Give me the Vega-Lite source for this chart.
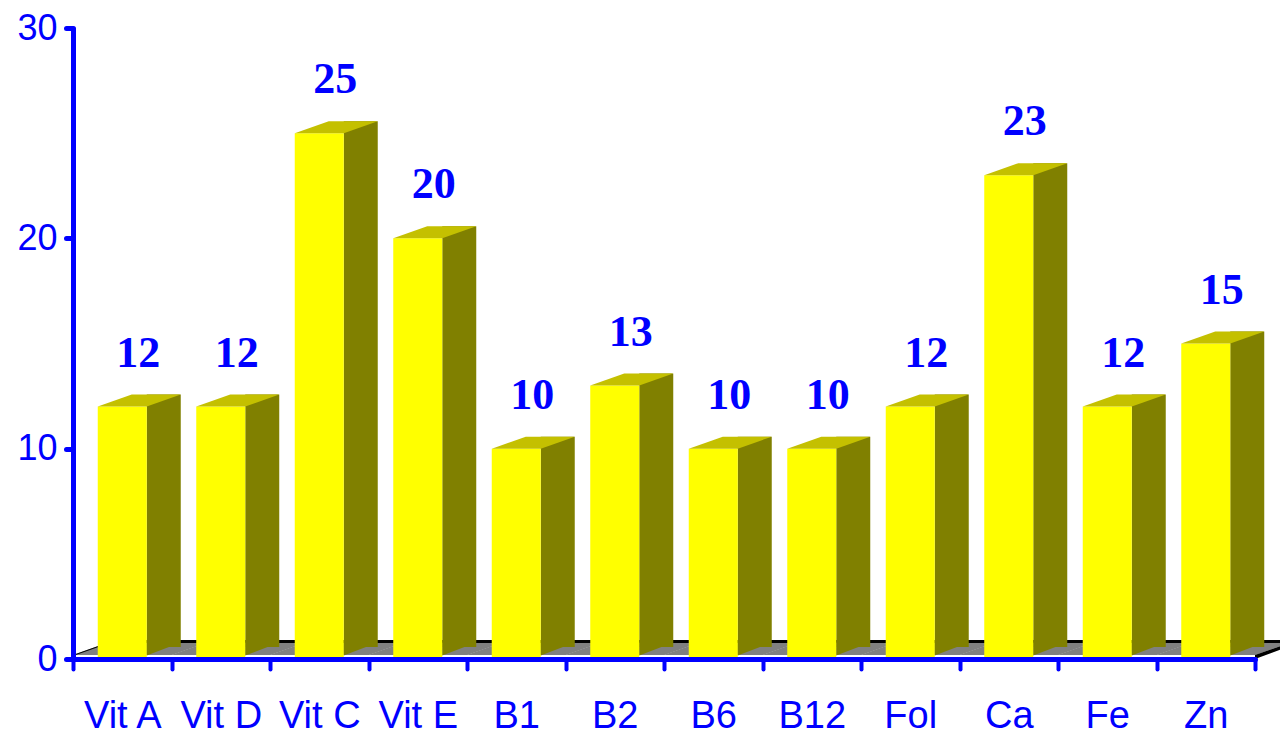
{
  "$schema": "https://vega.github.io/schema/vega-lite/v6.json",
  "width": 1182,
  "height": 631,
  "autosize": {"type": "none"},
  "padding": {"left": 73, "top": 28, "right": 25, "bottom": 76},
  "background": "white",
  "config": {"view": {"stroke": null}},
  "data": {
    "values": [
      {"nutrient": "Vit A", "value": 12},
      {"nutrient": "Vit D", "value": 12},
      {"nutrient": "Vit C", "value": 25},
      {"nutrient": "Vit E", "value": 20},
      {"nutrient": "B1", "value": 10},
      {"nutrient": "B2", "value": 13},
      {"nutrient": "B6", "value": 10},
      {"nutrient": "B12", "value": 10},
      {"nutrient": "Fol", "value": 12},
      {"nutrient": "Ca", "value": 23},
      {"nutrient": "Fe", "value": 12},
      {"nutrient": "Zn", "value": 15}
    ]
  },
  "encoding": {
    "x": {
      "field": "nutrient",
      "type": "nominal",
      "sort": null,
      "scale": {"paddingInner": 0, "paddingOuter": 0},
      "axis": {
        "title": null,
        "zindex": 1,
        "labelAngle": 0,
        "domainColor": "#0000FF",
        "domainWidth": 5,
        "domainCap": "round",
        "tickColor": "#0000FF",
        "tickWidth": 4,
        "tickSize": 10,
        "tickCap": "round",
        "tickBand": "extent",
        "labelColor": "#0000FF",
        "labelFont": "Liberation Sans",
        "labelFontSize": 38,
        "labelBaseline": "alphabetic",
        "labelPadding": 58,
        "grid": false
      }
    },
    "y": {
      "field": "value",
      "type": "quantitative",
      "scale": {"domain": [0, 30], "nice": false},
      "axis": {
        "title": null,
        "zindex": 1,
        "values": [0, 10, 20, 30],
        "domainColor": "#0000FF",
        "domainWidth": 5,
        "tickColor": "#0000FF",
        "tickWidth": 5,
        "tickSize": 7,
        "tickCap": "round",
        "labelColor": "#0000FF",
        "labelFont": "Liberation Sans",
        "labelFontSize": 36,
        "labelPadding": 9,
        "grid": false
      }
    }
  },
  "layer": [
    {
      "mark": {"type": "point", "shape": "M-49.6,-4L49.6,-4L83.6,-16L-15.6,-16Z", "size": 4, "filled": true, "opacity": 1, "color": "#808080", "strokeWidth": 0},
      "encoding": {"y": {"datum": 0}}
    },
    {
      "mark": {"type": "point", "shape": "M-15.6,-19L83.6,-19L83.6,-16L-15.6,-16Z", "size": 4, "filled": true, "opacity": 1, "color": "#000000", "strokeWidth": 0},
      "encoding": {"y": {"datum": 0}}
    },
    {
      "transform": [{"filter": "datum.nutrient === 'Vit A'"}],
      "mark": {"type": "point", "shape": "M-49.25,-4L-46.5,-4L-12.5,-16L-15.6,-16Z", "size": 4, "filled": true, "opacity": 1, "color": "#000000", "strokeWidth": 0},
      "encoding": {"y": {"datum": 0}}
    },
    {
      "transform": [{"filter": "datum.nutrient === 'Zn'"}],
      "mark": {"type": "point", "shape": "M49.25,-4L49.25,0L87.6,-14L83.6,-16Z", "size": 4, "filled": true, "opacity": 1, "color": "#000000", "strokeWidth": 0},
      "encoding": {"y": {"datum": 0}}
    },
    {
      "mark": {"type": "bar", "width": 34, "xOffset": 41.5, "yOffset": -12, "y2Offset": -16, "color": "#808000"}
    },
    {
      "mark": {"type": "point", "shape": "M24.5,-3.5L24.5,-16.5L58.5,-16.5Z", "size": 4, "filled": true, "opacity": 1, "color": "#808000", "strokeWidth": 0},
      "encoding": {"y": {"datum": 0}}
    },
    {
      "mark": {"type": "bar", "width": 49, "color": "#FFFF00"}
    },
    {
      "mark": {"type": "point", "shape": "M-24.5,0L24.5,0L58.5,-12L9.5,-12Z", "size": 4, "filled": true, "opacity": 1, "color": "#C4C000", "strokeWidth": 0}
    },
    {
      "mark": {"type": "text", "font": "Liberation Serif", "fontWeight": "bold", "fontSize": 44, "color": "#0000FF", "baseline": "alphabetic", "align": "center", "dx": 16, "dy": -40},
      "encoding": {"text": {"field": "value", "type": "quantitative"}}
    }
  ]
}
